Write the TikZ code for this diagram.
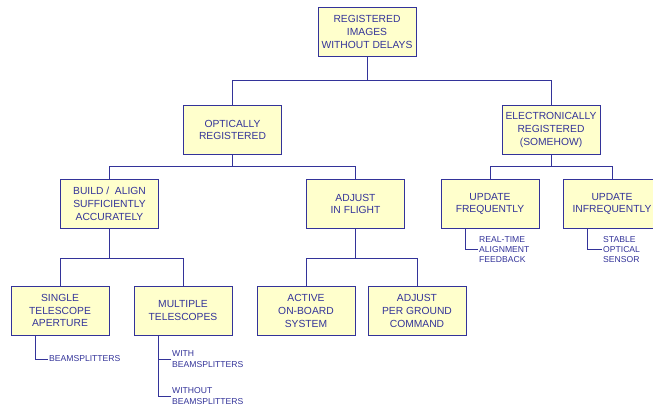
\documentclass[tikz,border=0pt]{standalone}
\usepackage{fontspec}
\setmainfont{Liberation Sans}
\usepackage{tikz}
\usetikzlibrary{positioning}

\definecolor{boxfill}{RGB}{255,255,204}
\definecolor{navy}{RGB}{51,51,153}

\begin{document}
\begin{tikzpicture}[x=1pt,y=-1pt,
    box/.style={draw=navy,fill=boxfill,align=center,text=navy,line width=0.8pt,
      minimum width=98pt,minimum height=49pt,inner sep=1pt,
      font=\fontsize{10.3}{12.8}\selectfont},
    note/.style={anchor=west,align=left,text=navy,inner sep=1pt,
      font=\fontsize{8.6}{10.2}\selectfont},
    link/.style={draw=navy,line width=0.8pt}]
  \useasboundingbox (0,0) rectangle (653,406);
  \node[box] (root) at (367,32) {REGISTERED\\ IMAGES\\ WITHOUT DELAYS};
  \node[box] (opt) at (232.5,130) {OPTICALLY\\ REGISTERED};
  \node[box] (elec) at (551,130) {ELECTRONICALLY\\ REGISTERED\\ (SOMEHOW)};
  \node[box] (build) at (109.5,204) {BUILD /\ \ ALIGN\\ SUFFICIENTLY\\ ACCURATELY};
  \node[box] (adj) at (355.5,204) {ADJUST\\ IN FLIGHT};
  \node[box] (upf) at (490,204) {UPDATE\\ FREQUENTLY};
  \node[box] (upi) at (612,204) {UPDATE\\ INFREQUENTLY};
  \node[box] (single) at (60,310.5) {SINGLE\\ TELESCOPE\\ APERTURE};
  \node[box] (multi) at (183,310.5) {MULTIPLE\\ TELESCOPES};
  \node[box] (active) at (306,311) {ACTIVE\\ ON-BOARD\\ SYSTEM};
  \node[box] (ground) at (417,311) {ADJUST\\ PER GROUND\\ COMMAND};
  \node[note] (bs) at (48,359) {BEAMSPLITTERS};
  \node[note] (with) at (171,359) {WITH\\ BEAMSPLITTERS};
  \node[note] (without) at (171,396) {WITHOUT\\ BEAMSPLITTERS};
  \node[note] (rtf) at (478,249.5) {REAL-TIME\\ ALIGNMENT\\ FEEDBACK};
  \node[note] (sos) at (602,249.5) {STABLE\\ OPTICAL\\ SENSOR};
  % tree
  \draw[link] (root.south) -- +(0,24) -| (opt.north);
  \draw[link] (root.south) -- +(0,24) -| (elec.north);
  \draw[link] (opt.south) -- +(0,11.5) -| (build.north);
  \draw[link] (opt.south) -- +(0,11.5) -| (adj.north);
  \draw[link] (elec.south) -- +(0,12) -| (upf.north);
  \draw[link] (elec.south) -- +(0,12) -| (upi.north);
  \draw[link] (build.south) -- +(0,29) -| (single.north);
  \draw[link] (build.south) -- +(0,29) -| (multi.north);
  \draw[link] (adj.south) -- +(0,29) -| (active.north);
  \draw[link] (adj.south) -- +(0,29) -| (ground.north);
  % side notes
  \draw[link] ([xshift=25pt]single.south west) |- (bs.west);
  \draw[link] ([xshift=25pt]multi.south west) |- (with.west);
  \draw[link] ([xshift=25pt]multi.south west) |- (without.west);
  \draw[link] ([xshift=25pt]upf.south west) |- (rtf.west);
  \draw[link] ([xshift=25pt]upi.south west) |- (sos.west);
\end{tikzpicture}
\end{document}
